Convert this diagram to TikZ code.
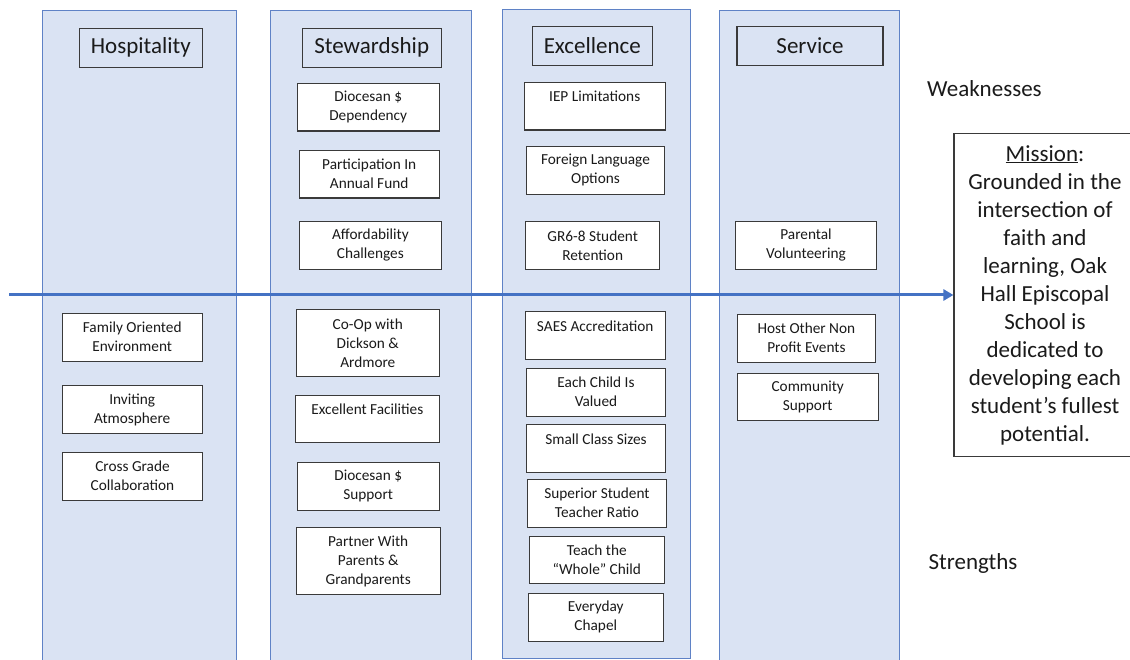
\documentclass[tikz,border=0pt]{standalone}
\usepackage{fontspec}
\setmainfont{Carlito}
\usetikzlibrary{arrows.meta}
\definecolor{panelfill}{HTML}{DAE3F3}
\definecolor{paneledge}{HTML}{5F82C6}
\definecolor{axisblue}{HTML}{4472C4}
\definecolor{boxedge}{HTML}{3A3A3A}
\definecolor{ink}{HTML}{1A1A1A}
\tikzset{
  panel/.style={fill=panelfill, draw=paneledge, line width=1pt},
  titlebox/.style={draw=boxedge, line width=1.1pt, inner sep=0pt, text=ink,
    font=\fontsize{23}{28}\selectfont},
  itembox/.style={draw=boxedge, fill=white, line width=1.1pt, inner sep=0pt,
    align=center, text=ink, font=\fontsize{15.3}{19}\selectfont},
  sidelabel/.style={inner sep=0pt, text=ink, font=\fontsize{23}{28}\selectfont},
  missionbox/.style={draw=boxedge, fill=white, line width=1.1pt, inner sep=0pt,
    align=center, text=ink, font=\fontsize{23}{28}\selectfont},
  axis/.style={draw=axisblue, line width=3pt, -{Triangle[length=10pt,width=11pt]}}
}
\begin{document}
\begin{tikzpicture}[x=1pt,y=-1pt]
\useasboundingbox (0,0) rectangle (1130,660);

% four value columns
\path[panel] (42.7,11) rectangle (236.7,675);
\path[panel] (270,11) rectangle (471,675);
\path[panel] (502.7,10) rectangle (690.7,658);
\path[panel] (719,11) rectangle (899,675);

% column headings
\node[titlebox, minimum width=123pt, minimum height=39pt] (hosp) at (140.8,47.8) {Hospitality};
\node[titlebox, minimum width=138.7pt, minimum height=39pt] (stew) at (371.7,47.8) {Stewardship};
\node[titlebox, minimum width=120pt, minimum height=38.6pt] (exc) at (592.3,46) {Excellence};
\node[titlebox, minimum width=146pt, minimum height=38.6pt] (serv) at (810,46) {Service};

% weaknesses (above the axis)
\node[itembox, minimum width=142.3pt, minimum height=47.7pt] (sw1) at (368.2,107.2) {Diocesan \$\\Dependency};
\node[itembox, minimum width=140.3pt, minimum height=47.7pt] (sw2) at (369.2,174.2) {Participation In\\Annual Fund};
\node[itembox, minimum width=141.3pt, minimum height=47.6pt] (sw3) at (370.4,245.5) {Affordability\\Challenges};
\node[itembox, minimum width=141.3pt, minimum height=47.7pt] (ew1) at (594.7,106.2) {IEP Limitations\\~};
\node[itembox, minimum width=137.6pt, minimum height=48pt] (ew2) at (595.5,170.3) {Foreign Language\\Options};
\node[itembox, minimum width=134pt, minimum height=48pt] (ew3) at (592.7,245.3) {GR6-8 Student\\Retention};
\node[itembox, minimum width=141.4pt, minimum height=48pt] (vw1) at (806,245.3) {Parental\\Volunteering};

% strengths (below the axis)
\node[itembox, minimum width=140.3pt, minimum height=47.7pt] (hs1) at (132.2,337.2) {Family Oriented\\Environment};
\node[itembox, minimum width=140.3pt, minimum height=47.6pt] (hs2) at (132.2,409.5) {Inviting\\Atmosphere};
\node[itembox, minimum width=139.6pt, minimum height=47.7pt] (hs3) at (132.5,476.2) {Cross Grade\\Collaboration};

\node[itembox, minimum width=143pt, minimum height=67pt] (ss1) at (367.8,343.2) {Co-Op with\\Dickson \&\\Ardmore};
\node[itembox, minimum width=144pt, minimum height=47.7pt] (ss2) at (367.3,418.9) {Excellent Facilities\\~};
\node[itembox, minimum width=142.3pt, minimum height=47.3pt] (ss3) at (368.2,486.4) {Diocesan \$\\Support};
\node[itembox, minimum width=143.7pt, minimum height=66.6pt] (ss4) at (368.2,561) {Partner With\\Parents \&\\Grandparents};

\node[itembox, minimum width=140.3pt, minimum height=47.6pt] (es1) at (595.2,335.5) {SAES Accreditation\\~};
\node[itembox, minimum width=138.6pt, minimum height=47.7pt] (es2) at (596,392.2) {Each Child Is\\Valued};
\node[itembox, minimum width=138.6pt, minimum height=47.7pt] (es3) at (596,448.2) {Small Class Sizes\\~};
\node[itembox, minimum width=138.6pt, minimum height=47.7pt] (es4) at (597,503.2) {Superior Student\\Teacher Ratio};
\node[itembox, minimum width=135pt, minimum height=47.7pt] (es5) at (596.8,559.9) {Teach the\\“Whole” Child};
\node[itembox, minimum width=135pt, minimum height=48pt] (es6) at (595.8,617.3) {Everyday\\Chapel};

\node[itembox, minimum width=138.7pt, minimum height=47.7pt] (vs1) at (806.4,338.2) {Host Other Non\\Profit Events};
\node[itembox, minimum width=141.3pt, minimum height=47.7pt] (vs2) at (807.7,396.9) {Community\\Support};

% side labels
\node[sidelabel] (weak) at (984.4,89) {Weaknesses};
\node[sidelabel] (strong) at (973,563.3) {Strengths};

% mission statement
\node[missionbox, minimum width=182pt, minimum height=323.4pt] (mission) at (1045,295)
  {\underline{Mission}:\\Grounded in the\\intersection of\\faith and\\learning, Oak\\Hall Episcopal\\School is\\dedicated to\\developing each\\student’s fullest\\potential.};

% horizontal axis pointing to the mission
\coordinate (axisstart) at (9,295);
\draw[axis] (axisstart) -- (mission.west);
\end{tikzpicture}
\end{document}
